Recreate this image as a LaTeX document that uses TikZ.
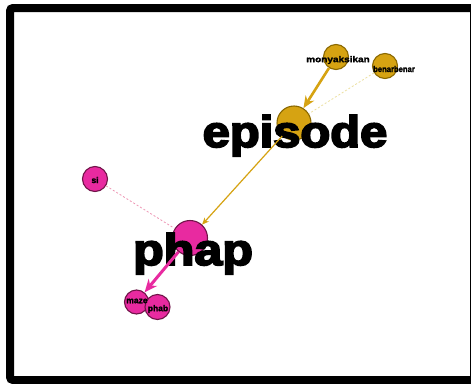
\documentclass[tikz,border=0pt]{standalone}
\usepackage{fontspec}
\setmainfont{Liberation Sans}
\newfontfamily\heavy[FakeBold=4]{Liberation Sans Bold}
\newfontfamily\smallheavy[FakeBold=1.5]{Liberation Sans Bold}
\usetikzlibrary{arrows.meta}
\definecolor{gold}{RGB}{214,163,18}
\definecolor{goldline}{RGB}{138,104,0}
\definecolor{golddot}{RGB}{236,224,160}
\definecolor{pinkf}{RGB}{232,42,160}
\definecolor{pinkline}{RGB}{112,20,72}
\definecolor{pinkdot}{RGB}{238,150,180}
\tikzset{
  goldnode/.style={circle, fill=gold, draw=goldline, line width=1.1pt, inner sep=0pt},
  pinknode/.style={circle, fill=pinkf, draw=pinkline, line width=1.1pt, inner sep=0pt},
  bigword/.style={font=\heavy\fontsize{44}{44}\selectfont, inner sep=0pt, anchor=base},
  tinyword/.style={font=\smallheavy\fontsize{8.5}{8.5}\selectfont, inner sep=0pt},
  goldarrow/.style={draw=gold, line width=2.6pt, -{Stealth[length=12pt,width=10pt]}},
  goldthin/.style={draw=gold, line width=1.2pt, -{Stealth[length=7pt,width=6pt]}},
  pinkarrow/.style={draw=pinkf, line width=3pt, -{Stealth[length=13pt,width=11pt]}},
  golddots/.style={draw=golddot, line width=0.8pt, dash pattern=on 2pt off 2pt},
  pinkdots/.style={draw=pinkdot, line width=0.8pt, dash pattern=on 2pt off 2pt}
}
\begin{document}
\begin{tikzpicture}[x=1pt,y=-1pt]
\useasboundingbox (0,0) rectangle (471,383);
\clip (0,0) rectangle (471,383);
\fill[white] (0,0) rectangle (471,383);
\draw[line width=8pt, rounded corners=3pt] (10,8) rectangle (474,380);
% circles
\node[goldnode, minimum size=25pt] (mon) at (336,57) {};
\node[goldnode, minimum size=25pt] (ben) at (385,66) {};
\node[goldnode, minimum size=34pt] (epi) at (294,123) {};
\node[pinknode, minimum size=25pt] (si) at (95,179) {};
\node[pinknode, minimum size=35pt] (pha) at (190,238) {};
\node[pinknode, minimum size=24pt] (maz) at (136.5,302) {};
\node[pinknode, minimum size=25pt] (phb) at (157.5,307) {};
% big words
\node[bigword] (epit) at (295,147) {\scalebox{1.11}[1]{episode}};
\node[bigword] (phat) at (193,265) {\scalebox{1.14}[1]{phap}};
% dotted links
\draw[golddots] (ben) -- (epi);
\draw[pinkdots] (si) -- (pha);
% arrows
\draw[goldarrow] (mon) -- (epi);
\draw[goldthin] (epi) -- (pha);
\draw[pinkarrow] (pha) -- (maz);
% small labels
\node[tinyword] (mont) at (338,60) {\scalebox{1.18}[1]{monyaksikan}};
\node[tinyword] (bent) at (394,69) {\scalebox{0.9}[1]{benarbenar}};
\node[tinyword] (sit) at (95,180) {si};
\node[tinyword] (mazt) at (137,301) {maze};
\node[tinyword] (phbt) at (158,309) {phab};
\end{tikzpicture}
\end{document}
